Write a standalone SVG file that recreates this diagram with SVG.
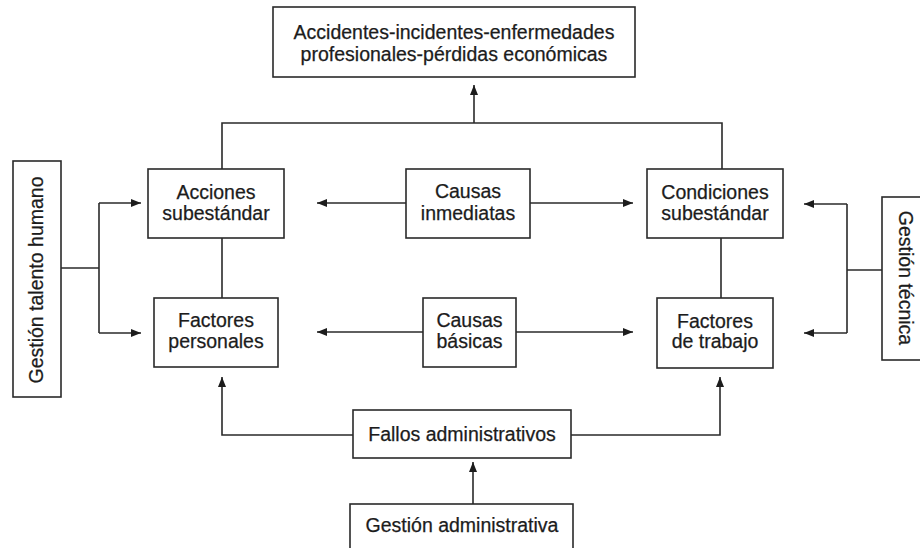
<svg xmlns="http://www.w3.org/2000/svg" width="920" height="548" viewBox="0 0 920 548">
  <style>
    .box { fill: #ffffff; stroke: #2a2a2a; stroke-width: 1.6; }
    .lbl { font-family: "Liberation Sans", Arial, sans-serif; font-size: 19.5px; fill: #1c1c1c; stroke: #1c1c1c; stroke-width: 0.25; text-anchor: middle; }
    .wire { fill: none; stroke: #2a2a2a; stroke-width: 1.6; }
    .arrow { fill: none; stroke: #2a2a2a; stroke-width: 1.6; marker-end: url(#head); }
  </style>
  <defs>
    <marker id="head" markerUnits="userSpaceOnUse" markerWidth="11" markerHeight="8" refX="10" refY="4" orient="auto">
      <path d="M0,0 L10,4 L0,8 z" fill="#1c1c1c"/>
    </marker>
  </defs>
  <rect width="920" height="548" fill="#ffffff"/>

  <!-- connectors -->
  <g id="connectors">
    <polyline class="wire" points="222,169 222,123 722,123 722,169"/>
    <line class="arrow" x1="474" y1="123" x2="474" y2="85"/>
    <line class="wire" x1="222" y1="238" x2="222" y2="298"/>
    <line class="wire" x1="721" y1="238" x2="721" y2="298"/>
    <line class="arrow" x1="406" y1="203" x2="317" y2="203"/>
    <line class="arrow" x1="530" y1="203" x2="633" y2="203"/>
    <line class="arrow" x1="423" y1="332" x2="317" y2="332"/>
    <line class="arrow" x1="516" y1="332" x2="633" y2="332"/>
    <!-- human talent management branch -->
    <line class="wire" x1="61" y1="268" x2="99" y2="268"/>
    <polyline class="wire" points="99,203 99,333"/>
    <line class="arrow" x1="99" y1="203" x2="141" y2="203"/>
    <line class="arrow" x1="99" y1="333" x2="141" y2="333"/>
    <!-- technical management branch -->
    <line class="wire" x1="882" y1="270" x2="847" y2="270"/>
    <polyline class="wire" points="847,204 847,333"/>
    <line class="arrow" x1="847" y1="204" x2="804" y2="204"/>
    <line class="arrow" x1="847" y1="333" x2="804" y2="333"/>
    <!-- administrative failures -->
    <polyline class="arrow" points="353,435 222,435 222,377"/>
    <polyline class="arrow" points="571,435 720,435 720,377"/>
    <line class="arrow" x1="473" y1="504" x2="473" y2="462"/>
  </g>

  <g id="n-resultados">
    <rect class="box" x="273" y="7" width="362" height="70"/>
    <text class="lbl" x="454" y="39">Accidentes-incidentes-enfermedades</text>
    <text class="lbl" x="454" y="61">profesionales-pérdidas económicas</text>
  </g>

  <g id="n-acciones">
    <rect class="box" x="148" y="169" width="136" height="69"/>
    <text class="lbl" x="216" y="199">Acciones</text>
    <text class="lbl" x="216" y="220">subestándar</text>
  </g>

  <g id="n-causas-inmediatas">
    <rect class="box" x="406" y="169" width="124" height="69"/>
    <text class="lbl" x="468" y="198">Causas</text>
    <text class="lbl" x="468" y="220">inmediatas</text>
  </g>

  <g id="n-condiciones">
    <rect class="box" x="647" y="169" width="136" height="69"/>
    <text class="lbl" x="715" y="199">Condiciones</text>
    <text class="lbl" x="715" y="220">subestándar</text>
  </g>

  <g id="n-factores-personales">
    <rect class="box" x="154" y="298" width="124" height="69"/>
    <text class="lbl" x="216" y="327">Factores</text>
    <text class="lbl" x="216" y="348">personales</text>
  </g>

  <g id="n-causas-basicas">
    <rect class="box" x="423" y="298" width="93" height="69"/>
    <text class="lbl" x="469.5" y="327">Causas</text>
    <text class="lbl" x="469.5" y="348">básicas</text>
  </g>

  <g id="n-factores-trabajo">
    <rect class="box" x="657" y="298" width="116" height="70"/>
    <text class="lbl" x="715" y="328">Factores</text>
    <text class="lbl" x="715" y="348">de trabajo</text>
  </g>

  <g id="n-fallos">
    <rect class="box" x="353" y="410" width="218" height="48"/>
    <text class="lbl" x="462" y="441">Fallos administrativos</text>
  </g>

  <g id="n-gestion-administrativa">
    <rect class="box" x="350" y="504" width="223" height="60"/>
    <text class="lbl" x="462" y="532">Gestión administrativa</text>
  </g>

  <g id="n-gestion-talento">
    <rect class="box" x="13" y="161" width="48" height="236"/>
    <text class="lbl" transform="translate(43,280) rotate(-90)">Gestión talento humano</text>
  </g>

  <g id="n-gestion-tecnica">
    <rect class="box" x="882" y="197" width="50" height="163"/>
    <text class="lbl" transform="translate(899,278) rotate(90)">Gestión técnica</text>
  </g>
</svg>
